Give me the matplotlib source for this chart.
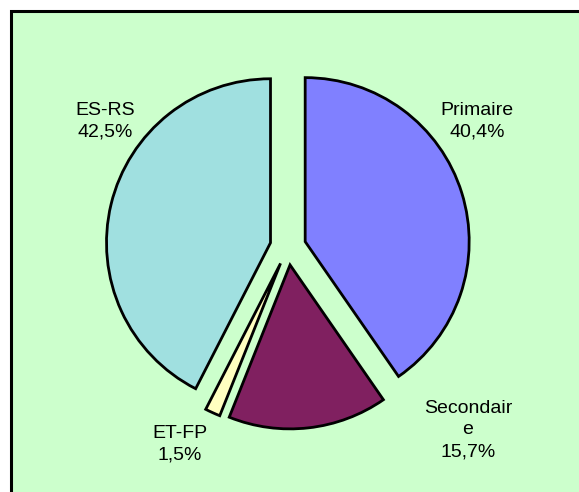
import matplotlib.pyplot as plt
from matplotlib.patches import Rectangle

plt.rcParams['font.family'] = ['Liberation Sans', 'DejaVu Sans']

labels = ["Primaire\n40,4%", "Secondair\ne\n15,7%", "ET-FP\n1,5%", "ES-RS\n42,5%"]
shares = [40.4, 15.7, 1.5, 42.5]
colors = ["#8080FF", "#802060", "#FFFFC0", "#A0E0E0"]
label_pos = [(477, 121), (468, 430), (180, 444), (105, 121)]

W, H = 579, 492
fig = plt.figure(figsize=(W / 100, H / 100), dpi=100)
fig.patch.set_facecolor("white")
ax = fig.add_axes([0, 0, 1, 1])

# green frame, runs past the right and bottom edges
ax.add_patch(Rectangle((11, -20), W + 20, H - 11 + 20, facecolor="#CCFFCC",
                       edgecolor="black", lw=2.2, zorder=0))

# explode is in data units here (pixels), not a fraction of the radius
ax.pie(shares, colors=colors, startangle=90, counterclock=False,
       center=(288, H - 247), radius=164, explode=[18] * 4,
       wedgeprops=dict(edgecolor="black", linewidth=2.0), frame=True)
ax.set_xlim(0, W)
ax.set_ylim(0, H)
ax.set_aspect("equal")
ax.axis("off")

for txt, (x, y) in zip(labels, label_pos):
    ax.text(x, H - y, txt, ha="center", va="center", fontsize=14,
            linespacing=1.35)

fig.savefig("out.png", dpi=100, facecolor=fig.get_facecolor())
